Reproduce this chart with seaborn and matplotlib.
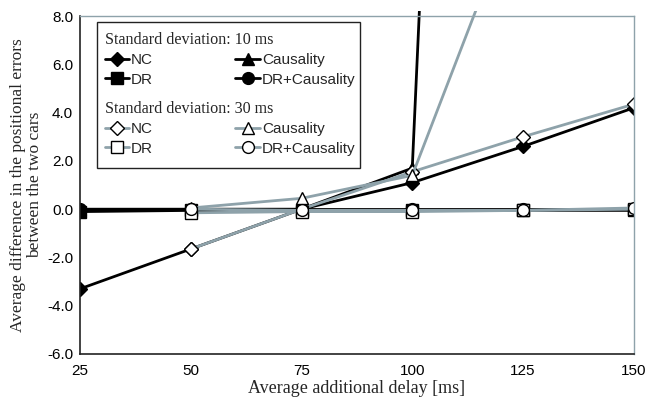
import numpy as np
import pandas as pd
import seaborn as sns
import matplotlib.pyplot as plt
from matplotlib.patches import Rectangle
from matplotlib.transforms import Bbox, TransformedBbox

delay = [25, 50, 75, 100, 125, 150]

# standard deviation 10 ms
nc_10 = [-3.3, -1.65, 0.0, 1.1, 2.6, 4.2]
caus_10 = [0.0, 0.0, 0.0, 1.7, 103.0, np.nan]
dr_10 = [-0.1, -0.05, -0.05, -0.05, -0.05, -0.05]
drc_10 = [0.0, 0.0, 0.0, 0.0, 0.0, 0.0]

# standard deviation 30 ms (no value at 25 ms)
nc_30 = [np.nan, -1.65, 0.0, 1.55, 3.0, 4.35]
caus_30 = [np.nan, 0.05, 0.45, 1.4, 13.3, np.nan]
dr_30 = [np.nan, -0.15, -0.1, -0.1, -0.05, 0.0]
drc_30 = [np.nan, 0.0, -0.05, -0.05, -0.05, 0.05]

black = '#000000'
gray = '#8ea2aa'

sns.set_style('white')
plt.rcParams['font.family'] = ['Liberation Sans', 'DejaVu Sans']

fig, ax = plt.subplots(figsize=(6.48, 4.03), dpi=100)
fig.subplots_adjust(left=0.1235, right=0.978, bottom=0.1216, top=0.960)

series = [
    ('NC', nc_10, black, 'D', black, 7.5),
    ('Causality', caus_10, black, '^', black, 8.5),
    ('DR', dr_10, black, 's', black, 8),
    ('DR+Causality', drc_10, black, 'o', black, 8.5),
    ('NC', nc_30, gray, 'D', 'white', 7.5),
    ('Causality', caus_30, gray, '^', 'white', 8.5),
    ('DR', dr_30, gray, 's', 'white', 8),
    ('DR+Causality', drc_30, gray, 'o', 'white', 8.5),
]

handles = []
for label, vals, col, mk, fc, ms in series:
    df = pd.DataFrame({'delay': delay, 'value': vals}).dropna()
    sns.lineplot(data=df, x='delay', y='value', ax=ax, color=col, linewidth=2,
                 marker=mk, markersize=ms, markerfacecolor=fc,
                 markeredgecolor='black', markeredgewidth=1, label=label)
    handles.append(ax.get_lines()[-1])

# lines slightly overshoot the top of the frame like in the original
clip = TransformedBbox(Bbox([[0, 0], [1, 1.016]]), ax.transAxes)
for ln in handles:
    ln.set_clip_box(clip)

ax.set_xlim(25, 150)
ax.set_ylim(-6, 8)
ax.set_xticks(delay)
ax.set_yticks(np.arange(-6, 8.1, 2))
ax.set_yticklabels([f'{v:.1f}' for v in np.arange(-6, 8.1, 2)])
ax.tick_params(direction='in', length=5, width=1, labelsize=11, colors='black', pad=5)
ax.tick_params(axis='x', pad=7)

for side in ['left', 'bottom']:
    ax.spines[side].set_color('#222222')
    ax.spines[side].set_linewidth(1.2)
for side in ['top', 'right']:
    ax.spines[side].set_color('#8ea2aa')
    ax.spines[side].set_linewidth(1)

ax.set_xlabel('Average additional delay [ms]', family='Liberation Serif', fontsize=13, labelpad=2)
ax.set_ylabel('Average difference in the positional errors\nbetween the two cars',
              family='Liberation Serif', fontsize=12.5, labelpad=3, linespacing=1.1)

ax.get_legend().remove()

common = dict(ncol=2, frameon=False, fontsize=11, handlelength=1.63, handletextpad=0.1,
              columnspacing=5.4, labelspacing=0.35, alignment='left', borderpad=0.2,
              title_fontproperties={'family': 'Liberation Serif', 'size': 11.6})
leg1 = ax.legend(handles=[handles[0], handles[2], handles[1], handles[3]],
                 labels=['NC', 'DR', 'Causality', 'DR+Causality'],
                 title='Standard deviation: 10 ms', loc='upper left',
                 bbox_to_anchor=(0.025, 0.985), **common)
ax.add_artist(leg1)
leg2 = ax.legend(handles=[handles[4], handles[6], handles[5], handles[7]],
                 labels=['NC', 'DR', 'Causality', 'DR+Causality'],
                 title='Standard deviation: 30 ms', loc='upper left',
                 bbox_to_anchor=(0.025, 0.78), **common)

box = Rectangle((97 / 648, 1 - 168 / 403), (360 - 97) / 648, (168 - 22) / 403,
                transform=fig.transFigure, fill=False, edgecolor='#222222', linewidth=1)
fig.patches.append(box)

fig.savefig('out.png', dpi=100)
